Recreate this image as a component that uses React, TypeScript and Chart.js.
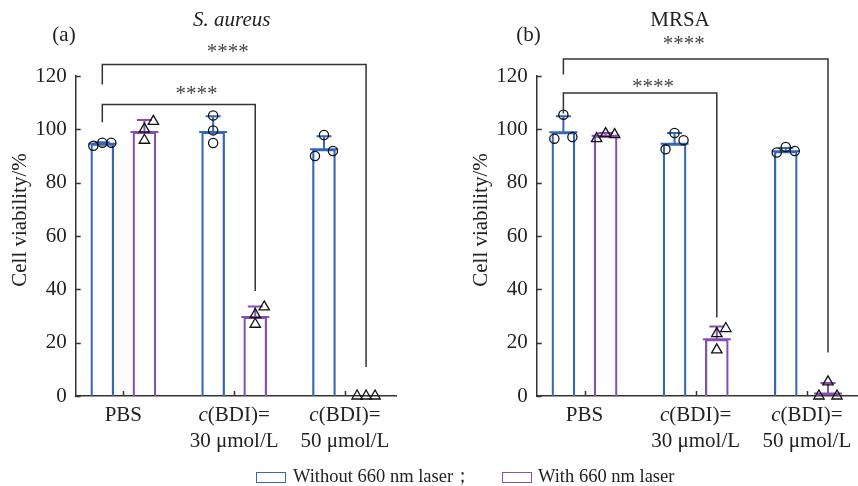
import React, { useEffect, useRef } from 'react';
import { Chart, registerables } from 'chart.js';

Chart.register(...registerables);

// ---------- data ----------
const categories = ['PBS', 'c(BDI)=30 μmol/L', 'c(BDI)=50 μmol/L'];
const xLabelLines = [['PBS'], ['*c*(BDI)=', '30 μmol/L'], ['*c*(BDI)=', '50 μmol/L']];
const yTickValues = [0, 20, 40, 60, 80, 100, 120];
const seriesNames = ['Without 660 nm laser；', 'With 660 nm laser'];
const yAxisTitle = 'Cell viability/%';

// panel (a) S. aureus
const aWithoutMean = [94.6, 99.0, 92.5];
const aWithoutErr = [0.6, 5.9, 4.9];
const aWithoutPts = [[93.8, 95.0, 95.0], [105.2, 99.6, 94.9], [90.0, 97.9, 91.9]];
const aWithMean = [99.0, 29.6, 0];
const aWithErr = [4.5, 4.0, 0];
const aWithPts = [[100.1, 95.9, 103.0], [30.5, 26.9, 33.4], [0, 0, 0]];

// panel (b) MRSA
const bWithoutMean = [98.9, 94.6, 91.8];
const bWithoutErr = [6.0, 4.0, 1.2];
const bWithoutPts = [[105.5, 96.5, 97.1], [92.5, 98.6, 95.9], [91.3, 93.4, 91.9]];
const bWithMean = [97.6, 21.3, 0.9];
const bWithErr = [1.0, 4.8, 4.0];
const bWithPts = [[96.5, 98.4, 98.0], [23.4, 17.3, 25.3], [0, 5.3, 0]];

// swarm slots of the replicate points (-1 left, 0 centre, 1 right)
const aWithoutSlots = [[-1, 0, 1], [0, 0, 0], [-1, 0, 1]];
const aWithSlots = [[0, 0, 1], [0, 0, 1], [-1, 0, 1]];
const bWithoutSlots = [[0, -1, 1], [-1, 0, 1], [-1, 0, 1]];
const bWithSlots = [[-1, 0, 1], [0, 0, 1], [-1, 0, 1]];

// significance brackets: [category, series] ends, bracket level, leg ends, label position
const aBrackets = [
  { from: [0, 0], to: [1, 1], y: 109.3, leftEnd: 102.7, rightEnd: 39.4, label: '****', labelX: 0.66, labelY: 114.6 },
  { from: [0, 0], to: [2, 1], y: 124.3, leftEnd: 116.8, rightEnd: 10.9, label: '****', labelX: 0.943, labelY: 130.5 },
];
const bBrackets = [
  { from: [0, 0], to: [1, 1], y: 113.6, leftEnd: 105.9, rightEnd: 29.4, label: '****', labelX: 0.615, labelY: 117.4 },
  { from: [0, 0], to: [2, 1], y: 126.4, leftEnd: 120.6, rightEnd: 16.3, label: '****', labelX: 0.892, labelY: 133.4 },
];

// ---------- style ----------
const FONT = '"Liberation Serif", "Times New Roman", serif';
const SERIES_COLORS = ['#3567b5', '#8650b0'];
const SERIES_OFFSET = [-0.19, 0.19];
const SLOT = 0.081;
const AXIS = '#333';
const TXT = '#222';

type PanelCfg = {
  tag: string;
  title: string;
  titleItalic: boolean;
  titleX: number;
  tagX: number;
  left: number;
  yAxisWidth: number;
  padRight: number;
  means: number[][];
  errs: number[][];
  pts: number[][][];
  slots: number[][][];
  brackets: typeof aBrackets;
};

const panels: PanelCfg[] = [
  {
    tag: '(a)', title: 'S. aureus', titleItalic: true, titleX: 231.7, tagX: 64, left: 0,
    yAxisWidth: 75.7, padRight: 33,
    means: [aWithoutMean, aWithMean], errs: [aWithoutErr, aWithErr],
    pts: [aWithoutPts, aWithPts], slots: [aWithoutSlots, aWithSlots], brackets: aBrackets,
  },
  {
    tag: '(b)', title: 'MRSA', titleItalic: false, titleX: 251, tagX: 99.5, left: 429,
    yAxisWidth: 107.7, padRight: 0,
    means: [bWithoutMean, bWithMean], errs: [bWithoutErr, bWithErr],
    pts: [bWithoutPts, bWithPts], slots: [bWithoutSlots, bWithSlots], brackets: bBrackets,
  },
];

function drawRich(ctx: CanvasRenderingContext2D, line: string, cx: number, cy: number, size: number) {
  const parts = line.split('*').map((t, i) => ({ t, it: i % 2 === 1 })).filter((p) => p.t.length);
  let total = 0;
  parts.forEach((p) => {
    ctx.font = `${p.it ? 'italic ' : ''}${size}px ${FONT}`;
    total += ctx.measureText(p.t).width;
  });
  let x = cx - total / 2;
  ctx.textAlign = 'left';
  ctx.textBaseline = 'middle';
  parts.forEach((p) => {
    ctx.font = `${p.it ? 'italic ' : ''}${size}px ${FONT}`;
    ctx.fillText(p.t, x, cy);
    x += ctx.measureText(p.t).width;
  });
}

function Panel({ cfg }: { cfg: PanelCfg }) {
  const ref = useRef<HTMLCanvasElement>(null);
  useEffect(() => {
    if (!ref.current) return;
    const datasets: any[] = [];
    cfg.means.forEach((m, s) => {
      datasets.push({
        type: 'bar',
        label: seriesNames[s],
        data: m.map((v, i) => ({ x: i + SERIES_OFFSET[s], y: v })),
        errorValues: cfg.errs[s],
        backgroundColor: 'rgba(0,0,0,0)',
        borderColor: SERIES_COLORS[s],
        borderWidth: 1.6,
        barThickness: 23,
        grouped: false,
        order: 2,
      });
    });
    cfg.pts.forEach((groups, s) => {
      const data: { x: number; y: number }[] = [];
      groups.forEach((vals, i) =>
        vals.forEach((v, k) => data.push({ x: i + SERIES_OFFSET[s] + cfg.slots[s][i][k] * SLOT, y: v }))
      );
      datasets.push({
        type: 'scatter',
        label: seriesNames[s] + ' points',
        data,
        showLine: false,
        clip: false,
        order: 1,
        pointStyle: s === 0 ? 'circle' : 'triangle',
        pointRadius: s === 0 ? 4.6 : 6,
        pointBorderWidth: 1.3,
        pointBorderColor: '#111',
        pointBackgroundColor: 'rgba(0,0,0,0)',
        borderColor: '#111',
        backgroundColor: 'rgba(0,0,0,0)',
      });
    });

    const decor = {
      id: 'decor',
      afterDatasetDraw(chart: any, args: any) {
        if (args.meta.type !== 'bar') return;
        const ds = chart.data.datasets[args.index];
        const xs = chart.scales.x;
        const ys = chart.scales.y;
        const ctx = chart.ctx;
        ctx.save();
        ctx.strokeStyle = ds.borderColor;
        ctx.lineWidth = 2;
        ds.data.forEach((d: any, i: number) => {
          const err = ds.errorValues[i];
          if (d.y === 0 && err === 0) return;
          const xc = xs.getPixelForValue(d.x);
          const ym = ys.getPixelForValue(d.y);
          const ye = ys.getPixelForValue(d.y + err);
          ctx.beginPath();
          ctx.moveTo(xc - 14, ym);
          ctx.lineTo(xc + 14, ym);
          if (err > 0) {
            ctx.moveTo(xc, ym);
            ctx.lineTo(xc, ye);
            ctx.moveTo(xc - 7.5, ye);
            ctx.lineTo(xc + 7.5, ye);
          }
          ctx.stroke();
        });
        ctx.restore();
      },
      afterDraw(chart: any) {
        const xs = chart.scales.x;
        const ys = chart.scales.y;
        const ctx = chart.ctx;
        const area = chart.chartArea;
        ctx.save();
        // inward tick marks
        ctx.strokeStyle = AXIS;
        ctx.lineWidth = 1.5;
        ctx.beginPath();
        ys.ticks.forEach((t: any) => {
          const y = Math.round(ys.getPixelForValue(t.value)) + 0.5;
          ctx.moveTo(area.left, y);
          ctx.lineTo(area.left + 5, y);
        });
        xs.ticks.forEach((t: any) => {
          const x = Math.round(xs.getPixelForValue(t.value)) + 0.5;
          ctx.moveTo(x, area.bottom);
          ctx.lineTo(x, area.bottom - 5);
        });
        ctx.stroke();
        // brackets
        cfg.brackets.forEach((b) => {
          const x1 = xs.getPixelForValue(b.from[0] + SERIES_OFFSET[b.from[1]]);
          const x2 = xs.getPixelForValue(b.to[0] + SERIES_OFFSET[b.to[1]]);
          const yb = ys.getPixelForValue(b.y);
          ctx.strokeStyle = AXIS;
          ctx.lineWidth = 1.5;
          ctx.beginPath();
          ctx.moveTo(x1, ys.getPixelForValue(b.leftEnd));
          ctx.lineTo(x1, yb);
          ctx.lineTo(x2, yb);
          ctx.lineTo(x2, ys.getPixelForValue(b.rightEnd));
          ctx.stroke();
          ctx.fillStyle = '#444';
          ctx.font = `21px ${FONT}`;
          ctx.textAlign = 'center';
          ctx.textBaseline = 'alphabetic';
          ctx.fillText(b.label, xs.getPixelForValue(b.labelX), ys.getPixelForValue(b.labelY) + 9.7);
        });
        // x labels
        ctx.fillStyle = TXT;
        xs.ticks.forEach((t: any, i: number) => {
          const lines = xLabelLines[i] || [categories[i]];
          lines.forEach((ln, j) => drawRich(ctx, ln, xs.getPixelForValue(t.value), area.bottom + 19 + j * 26, 21));
        });
        // y title
        ctx.save();
        ctx.translate(area.left - 55.7, (area.top + area.bottom) / 2 - 16);
        ctx.rotate(-Math.PI / 2);
        ctx.font = `21px ${FONT}`;
        ctx.textAlign = 'center';
        ctx.textBaseline = 'middle';
        ctx.fillText(yAxisTitle, 0, 0);
        ctx.restore();
        // title and tag
        ctx.font = `${cfg.titleItalic ? 'italic ' : ''}21px ${FONT}`;
        ctx.textAlign = 'center';
        ctx.textBaseline = 'middle';
        ctx.fillText(cfg.title, cfg.titleX, 20);
        ctx.font = `21px ${FONT}`;
        ctx.fillText(cfg.tag, cfg.tagX, 35.5);
        ctx.restore();
      },
    };

    const chart = new Chart(ref.current, {
      type: 'bar',
      data: { datasets },
      options: {
        animation: false,
        responsive: false,
        maintainAspectRatio: false,
        events: [],
        layout: { autoPadding: false, padding: { top: 76, right: cfg.padRight, left: 0, bottom: 0 } },
        plugins: { legend: { display: false }, tooltip: { enabled: false }, title: { display: false } },
        scales: {
          x: {
            type: 'linear',
            min: -0.43,
            max: 2.46,
            offset: false,
            grace: 0,
            bounds: 'data',
            grid: { display: false, drawTicks: false },
            border: { display: true, color: AXIS, width: 1.5 },
            ticks: { display: false },
            afterBuildTicks: (s: any) => {
              s.ticks = categories.map((_, i) => ({ value: i }));
            },
            afterFit: (s: any) => {
              s.height = 90;
            },
          },
          y: {
            type: 'linear',
            min: 0,
            max: 120,
            grid: { display: false, drawTicks: false },
            border: { display: true, color: AXIS, width: 1.5 },
            ticks: { padding: 9, color: TXT, font: { family: FONT, size: 21 } },
            afterBuildTicks: (s: any) => {
              s.ticks = yTickValues.map((v) => ({ value: v }));
            },
            afterFit: (s: any) => {
              s.width = cfg.yAxisWidth;
            },
          },
        },
      } as any,
      plugins: [decor],
    });
    return () => chart.destroy();
  }, [cfg]);
  return (
    <canvas
      ref={ref}
      width={429}
      height={486}
      style={{ position: 'absolute', left: cfg.left, top: 0, width: 429, height: 486 }}
    />
  );
}

export default function App() {
  const legendText: React.CSSProperties = {
    position: 'absolute',
    top: 465,
    fontSize: 18.5,
    lineHeight: '22px',
    fontFamily: FONT,
    color: TXT,
    whiteSpace: 'nowrap',
  };
  const box = (c: string, left: number): React.CSSProperties => ({
    position: 'absolute',
    left,
    top: 471.5,
    width: 30,
    height: 11,
    boxSizing: 'border-box',
    border: `1.5px solid ${c}`,
  });
  return (
    <div style={{ position: 'fixed', left: 0, top: 0, width: 858, height: 486, background: '#fff', overflow: 'hidden' }}>
      {panels.map((p) => (
        <Panel key={p.tag} cfg={p} />
      ))}
      <div style={box(SERIES_COLORS[0], 256)} />
      <div style={{ ...legendText, left: 293 }}>{seriesNames[0]}</div>
      <div style={box(SERIES_COLORS[1], 501.7)} />
      <div style={{ ...legendText, left: 538 }}>{seriesNames[1]}</div>
    </div>
  );
}
